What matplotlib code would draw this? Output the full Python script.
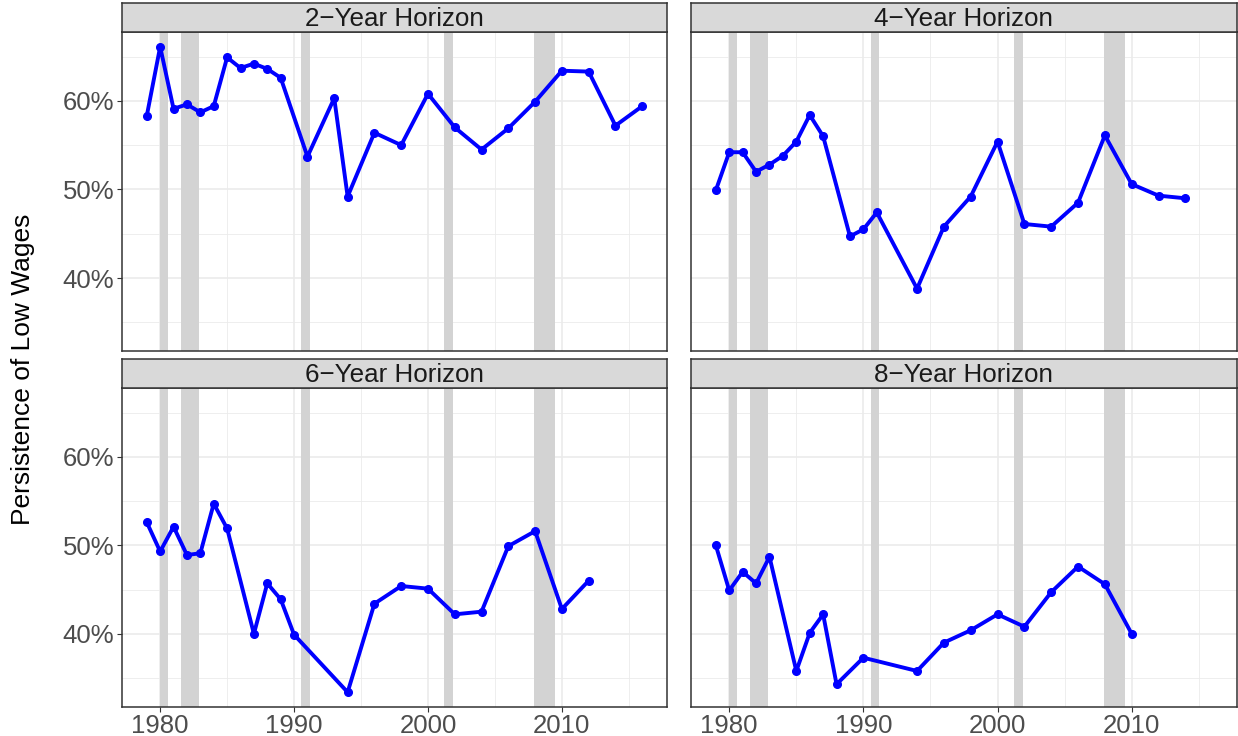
import matplotlib.pyplot as plt

plt.rcParams['font.family'] = ['Liberation Sans', 'DejaVu Sans']

#Data (percent)
panel_titles = ['2\u2212Year Horizon', '4\u2212Year Horizon',
                '6\u2212Year Horizon', '8\u2212Year Horizon']

years_2yr = [1979, 1980, 1981, 1982, 1983, 1984, 1985, 1986, 1987, 1988, 1989,
             1991, 1993, 1994, 1996, 1998, 2000, 2002, 2004, 2006, 2008, 2010,
             2012, 2014, 2016]
persist_2yr = [58.3, 66.1, 59.1, 59.6, 58.7, 59.4, 64.9, 63.7, 64.2, 63.6, 62.6,
               53.7, 60.3, 49.2, 56.4, 55.0, 60.8, 57.0, 54.5, 56.9, 59.9, 63.4,
               63.3, 57.2, 59.4]

years_4yr = [1979, 1980, 1981, 1982, 1983, 1984, 1985, 1986, 1987, 1989, 1990,
             1991, 1994, 1996, 1998, 2000, 2002, 2004, 2006, 2008, 2010, 2012,
             2014]
persist_4yr = [49.9, 54.2, 54.2, 52.0, 52.8, 53.8, 55.4, 58.4, 56.0, 44.7, 45.5,
               47.4, 38.8, 45.8, 49.2, 55.4, 46.1, 45.8, 48.5, 56.1, 50.6, 49.3,
               49.0]

years_6yr = [1979, 1980, 1981, 1982, 1983, 1984, 1985, 1987, 1988, 1989, 1990,
             1994, 1996, 1998, 2000, 2002, 2004, 2006, 2008, 2010, 2012]
persist_6yr = [52.6, 49.3, 52.1, 48.9, 49.1, 54.7, 51.9, 40.0, 45.7, 43.9, 39.9,
               33.4, 43.4, 45.4, 45.1, 42.2, 42.5, 49.9, 51.6, 42.8, 46.0]

years_8yr = [1979, 1980, 1981, 1982, 1983, 1985, 1986, 1987, 1988, 1990, 1994,
             1996, 1998, 2000, 2002, 2004, 2006, 2008, 2010]
persist_8yr = [50.0, 44.9, 47.0, 45.7, 48.7, 35.8, 40.1, 42.2, 34.3, 37.3, 35.8,
               39.0, 40.4, 42.2, 40.8, 44.7, 47.6, 45.6, 40.0]

#NBER recessions (start, end) in fractional years
recessions = [(1980.0, 1980.55), (1981.55, 1982.9), (1990.55, 1991.2),
              (2001.2, 2001.9), (2007.95, 2009.5)]

x_major = [1980, 1990, 2000, 2010]
x_minor = [1985, 1995, 2005, 2015]
y_major = [40, 50, 60]
y_minor = [35, 45, 55, 65]

series = [(years_2yr, persist_2yr), (years_4yr, persist_4yr),
          (years_6yr, persist_6yr), (years_8yr, persist_8yr)]

#shared scales with ggplot-style 5% expansion
all_x = [x for s in series for x in s[0]]
all_y = [y for s in series for y in s[1]]
xpad = 0.05 * (max(all_x) - min(all_x))
ypad = 0.05 * (max(all_y) - min(all_y))
xlim = (min(all_x) - xpad, max(all_x) + xpad)
ylim = (min(all_y) - ypad, max(all_y) + ypad)

W, H = 1238, 736
fig = plt.figure(figsize=(W / 100, H / 100), dpi=100)

cols = [(122, 667), (691, 1237)]
rows = [(32.3, 351), (388.3, 706.7)]
strip_h = 29
grid_col = '#EBEBEB'
border_col = '#333333'

for i, (yrs, vals) in enumerate(series):
    r, c = divmod(i, 2)
    x0, x1 = cols[c]
    y0, y1 = rows[r]
    ax = fig.add_axes([x0 / W, 1 - y1 / H, (x1 - x0) / W, (y1 - y0) / H])
    ax.set_xlim(xlim)
    ax.set_ylim(ylim)
    for xv in x_minor:
        ax.axvline(xv, color=grid_col, lw=0.6, zorder=0)
    for yv in y_minor:
        ax.axhline(yv, color=grid_col, lw=0.6, zorder=0)
    for xv in x_major:
        ax.axvline(xv, color=grid_col, lw=1.2, zorder=0)
    for yv in y_major:
        ax.axhline(yv, color=grid_col, lw=1.2, zorder=0)
    for (a, b) in recessions:
        ax.axvspan(a, b, color='#D3D3D3', lw=0, zorder=1)
    ax.plot(yrs, vals, color='#0000FF', lw=2.8, zorder=3,
            marker='o', markersize=5.5, solid_joinstyle='round')
    ax.set_xticks(x_major)
    ax.set_yticks(y_major)
    ax.tick_params(length=3.5, width=0.8, color=border_col,
                   labelsize=18.5, labelcolor='#4D4D4D', pad=2)
    if r == 0:
        ax.tick_params(axis='x', length=0, labelbottom=False)
    else:
        ax.set_xticklabels([str(v) for v in x_major])
    if c == 1:
        ax.tick_params(axis='y', length=0, labelleft=False)
    else:
        ax.set_yticklabels(['%d%%' % v for v in y_major])
    for sp in ax.spines.values():
        sp.set_color(border_col)
        sp.set_linewidth(1.1)

    #facet strip
    sax = fig.add_axes([x0 / W, 1 - y0 / H, (x1 - x0) / W, strip_h / H])
    sax.set_facecolor('#D9D9D9')
    sax.set_xticks([])
    sax.set_yticks([])
    for sp in sax.spines.values():
        sp.set_color(border_col)
        sp.set_linewidth(1.1)
    sax.text(0.5, 0.47, panel_titles[i], transform=sax.transAxes,
             ha='center', va='center', fontsize=18.7, color='#1A1A1A')

fig.text(23 / W, 1 - 369 / H, 'Persistence of Low Wages', rotation=90,
         ha='center', va='center', fontsize=19, color='black')

fig.savefig('out.png', dpi=100)
